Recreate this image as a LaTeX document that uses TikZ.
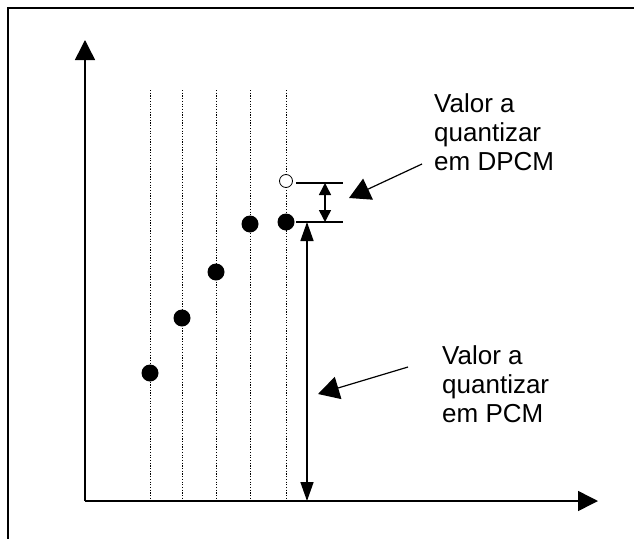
\documentclass[tikz,border=0pt]{standalone}
\usepackage{fontspec}
\setmainfont{Liberation Sans}
\usetikzlibrary{arrows.meta}
\begin{document}
\begin{tikzpicture}[x=1pt,y=-1pt,
  axis/.style={line width=1.5pt,-{Triangle[length=20pt,width=20pt]}},
  grid/.style={line width=1pt,dash pattern=on 1.2pt off 1.5pt},
  sample/.style={circle,fill=black,minimum size=17pt,inner sep=0pt},
  predicted/.style={circle,draw=black,fill=white,line width=0.8pt,minimum size=13pt,inner sep=0pt},
  tick/.style={line width=1.5pt},
  bigdbl/.style={line width=1.5pt,{Triangle[length=19pt,width=13pt]}-{Triangle[length=19pt,width=13pt]}},
  smalldbl/.style={line width=1.5pt,{Triangle[length=12pt,width=12pt]}-{Triangle[length=12pt,width=12pt]}},
  note/.style={line width=1.2pt,-{Triangle[length=21pt,width=23pt]}},
  label/.style={anchor=north west,inner sep=0pt,align=left,font=\fontsize{26}{29}\selectfont}]
\useasboundingbox (0,0) rectangle (634,538);
\begin{scope}
\clip (0,0) rectangle (634,538);
\draw[line width=2pt] (8,560) -- (8,8) -- (660,8);
\end{scope}
% axes
\coordinate (O) at (85,501);
\coordinate (Ytop) at (85,40);
\coordinate (Xend) at (598,501);
\draw[axis] (O) -- (Ytop);
\draw[axis] (O) -- (Xend);
% dotted lines
\foreach \x/\n in {150/1,182/2,216/3,250/4,286/5}{
  \coordinate (gt\n) at (\x,90);
  \coordinate (gb\n) at (\x,501);
  \draw[grid] (gt\n) -- (gb\n);
}
% samples
\node[sample] (s1) at (150,373) {};
\node[sample] (s2) at (182,318) {};
\node[sample] (s3) at (216,272) {};
\node[sample] (s4) at (250,224) {};
\node[sample] (s5) at (286,222) {};
\node[predicted] (p) at (286,181) {};
% ticks
\coordinate (t1a) at (296,183);
\coordinate (t1b) at (343,183);
\coordinate (t2a) at (296,222);
\coordinate (t2b) at (343,222);
\draw[tick] (t1a) -- (t1b);
\draw[tick] (t2a) -- (t2b);
% double arrows
\coordinate (d1) at (325,183);
\coordinate (d2) at (325,222);
\draw[smalldbl] (d1) -- (d2);
\coordinate (b1) at (307,222);
\coordinate (b2) at (307,501);
\draw[bigdbl] (b1) -- (b2);
% labels
\node[label] (dpcm) at (434,93) {Valor a\\quantizar\\em DPCM};
\node[label] (pcm) at (442,345) {Valor a\\quantizar\\em PCM};
\coordinate (n1s) at (422,164);
\coordinate (n1e) at (349,198);
\draw[note] (n1s) -- (n1e);
\coordinate (n2s) at (408,367);
\coordinate (n2e) at (318,394);
\draw[note] (n2s) -- (n2e);
\end{tikzpicture}
\end{document}
